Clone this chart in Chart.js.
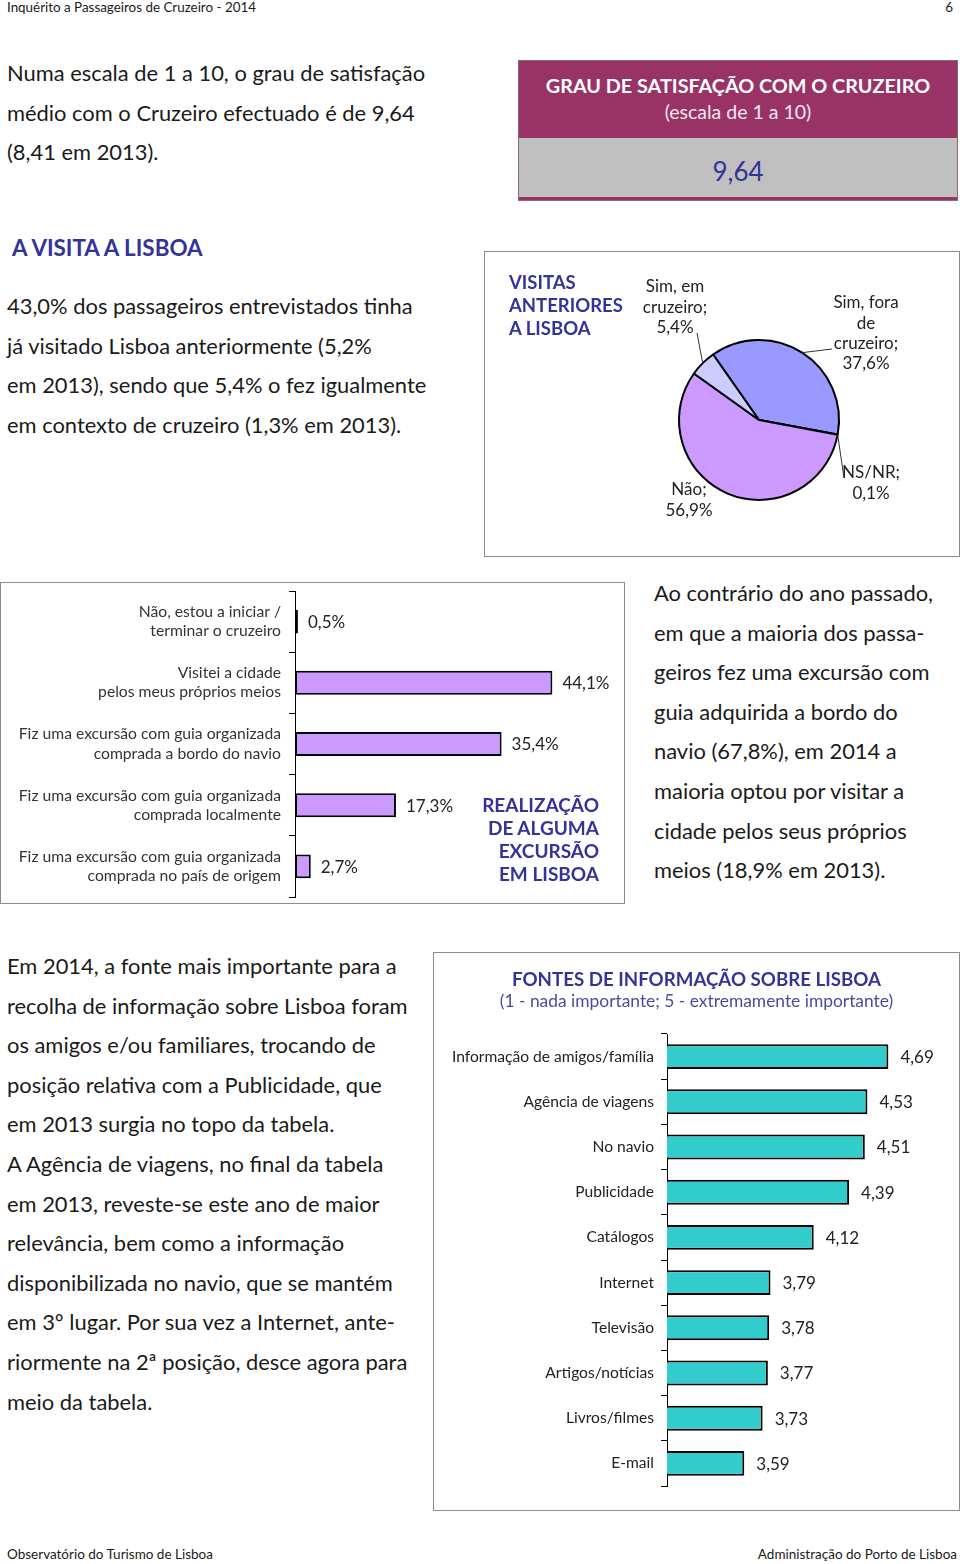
<!DOCTYPE html>
<html lang="pt">
<head>
<meta charset="utf-8">
<title>Inquérito a Passageiros de Cruzeiro - 2014</title>
<script src="https://cdn.jsdelivr.net/npm/chart.js@4"></script>
<style>
  body { margin: 0; width: 960px; height: 1564px; position: relative; overflow: hidden; background: #fff; font-family: Lato, 'Noto Sans', sans-serif; color: #1a1a1a; }
  .abs { position: absolute; white-space: nowrap; }
  .para { font-size: 21.9px; line-height: 39.6px; }
  .small { font-size: 13.4px; line-height: 15px; }
  .box { border: 1px solid #8c8c8c; box-sizing: border-box; background: #fff; }
  .blue { color: #333399; font-weight: bold; }
  canvas { position: absolute; }
</style>
</head>
<body>

<div class="abs small" style="left:7px; top:0px;">Inquérito a Passageiros de Cruzeiro - 2014</div>
<div class="abs small" style="right:7px; top:0px;">6</div>

<div class="abs para" style="left:7px; top:53px;">
  Numa escala de 1 a 10, o grau de satisfação<br>
  médio com o Cruzeiro efectuado é de 9,64<br>
  (8,41 em 2013).
</div>

<!-- caixa do grau de satisfação -->
<div class="abs" style="left:518px; top:60px; width:440px; height:141px; border:1px solid #8a6a7a; box-sizing:border-box; background:#993366;">
  <div class="abs" style="left:0; top:77px; width:438px; height:59px; background:#c0c0c0;"></div>
  <div class="abs" style="left:0; width:438px; top:12px; text-align:center; color:#fff; font-weight:bold; font-size:19.8px;">GRAU DE SATISFAÇÃO COM O CRUZEIRO</div>
  <div class="abs" style="left:0; width:438px; top:39px; text-align:center; color:#f4e8ee; font-size:19.5px;">(escala de 1 a 10)</div>
  <div class="abs" style="left:0; width:438px; top:94px; text-align:center; color:#333399; font-size:26px;">9,64</div>
</div>

<div class="abs blue" style="left:12px; top:234px; font-size:22.4px;">A VISITA A LISBOA</div>

<div class="abs para" style="left:7px; top:286px;">
  43,0% dos passageiros entrevistados tinha<br>
  já visitado Lisboa anteriormente (5,2%<br>
  em 2013), sendo que 5,4% o fez igualmente<br>
  em contexto de cruzeiro (1,3% em 2013).
</div>

<!-- visitas anteriores -->
<div class="abs box" style="left:484px; top:251px; width:476px; height:306px;">
  <canvas id="visitas" width="474" height="304" style="left:0; top:0;"></canvas>
  <div class="abs blue" style="left:24px; top:19px; font-size:18.5px; line-height:23px;">VISITAS<br>ANTERIORES<br>A LISBOA</div>
</div>

<!-- excursões -->
<div class="abs box" style="left:0px; top:582px; width:625px; height:322px;">
  <canvas id="excursao" width="623" height="320" style="left:0; top:0;"></canvas>
  <div class="abs blue" style="right:25px; top:210px; font-size:19px; line-height:23px; text-align:right;">REALIZAÇÃO<br>DE ALGUMA<br>EXCURSÃO<br>EM LISBOA</div>
</div>

<div class="abs para" style="left:654px; top:573px;">
  Ao contrário do ano passado,<br>
  em que a maioria dos passa-<br>
  geiros fez uma excursão com<br>
  guia adquirida a bordo do<br>
  navio (67,8%), em 2014 a<br>
  maioria optou por visitar a<br>
  cidade pelos seus próprios<br>
  meios (18,9% em 2013).
</div>

<div class="abs para" style="left:7px; top:946px;">
  Em 2014, a fonte mais importante para a<br>
  recolha de informação sobre Lisboa foram<br>
  os amigos e/ou familiares, trocando de<br>
  posição relativa com a Publicidade, que<br>
  em 2013 surgia no topo da tabela.<br>
  A Agência de viagens, no final da tabela<br>
  em 2013, reveste-se este ano de maior<br>
  relevância, bem como a informação<br>
  disponibilizada no navio, que se mantém<br>
  em 3º lugar. Por sua vez a Internet, ante-<br>
  riormente na 2ª posição, desce agora para<br>
  meio da tabela.
</div>

<!-- fontes de informação -->
<div class="abs box" style="left:433px; top:952px; width:527px; height:559px;">
  <canvas id="fontes" width="525" height="557" style="left:0; top:0;"></canvas>
  <div class="abs blue" style="left:0; width:525px; top:15px; text-align:center; font-size:18.7px;">FONTES DE INFORMAÇÃO SOBRE LISBOA</div>
  <div class="abs" style="left:0; width:525px; top:37px; text-align:center; font-size:17.4px; color:#4a4aa6;">(1 - nada importante; 5 - extremamente importante)</div>
</div>

<div class="abs small" style="left:7px; top:1547px; font-size:13.5px;">Observatório do Turismo de Lisboa</div>
<div class="abs small" style="right:3px; top:1547px; font-size:13.5px;">Administração do Porto de Lisboa</div>

<script>
// visitas anteriores a Lisboa (%)
const visitLabels = [['Sim, fora', 'de', 'cruzeiro'], ['NS/NR'], ['Não'], ['Sim, em', 'cruzeiro']];
const visitValues = [37.6, 0.1, 56.9, 5.4];
const visitColors = ['#9999ff', '#ffffcc', '#cc99ff', '#ccccff'];

// realização de alguma excursão em Lisboa (%)
const excursionLabels = [
  ['Não, estou a iniciar /', 'terminar o cruzeiro'],
  ['Visitei a cidade', 'pelos meus próprios meios'],
  ['Fiz uma excursão com guia organizada', 'comprada a bordo do navio'],
  ['Fiz uma excursão com guia organizada', 'comprada localmente'],
  ['Fiz uma excursão com guia organizada', 'comprada no país de origem'],
];
const excursionValues = [0.5, 44.1, 35.4, 17.3, 2.7];

// fontes de informação sobre Lisboa (escala 1 a 5)
const sourceLabels = ['Informação de amigos/família', 'Agência de viagens', 'No navio', 'Publicidade', 'Catálogos',
  'Internet', 'Televisão', 'Artigos/notícias', 'Livros/filmes', 'E-mail'];
const sourceValues = [4.69, 4.53, 4.51, 4.39, 4.12, 3.79, 3.78, 3.77, 3.73, 3.59];

const FONT = 'Lato, "Noto Sans", sans-serif';
const comma = (v, d) => v.toFixed(d).replace('.', ',');

// eixo de categorias sem a folga que o Chart.js reserva para os rótulos
function fixAxis(width) {
  return (s) => {
    s.width = width;
    s.paddingTop = 0;
    s.paddingBottom = 0;
  };
}

// rótulos do gráfico circular, posição relativa ao centro
const pieLabelPlugin = {
  id: 'pieLabels',
  afterDatasetsDraw(chart, args, opts) {
    const ctx = chart.ctx;
    const meta = chart.getDatasetMeta(0);
    ctx.save();
    ctx.font = '17px ' + FONT;
    ctx.fillStyle = '#222';
    ctx.strokeStyle = '#333';
    ctx.lineWidth = 1;
    ctx.textAlign = 'center';
    ctx.textBaseline = 'middle';
    meta.data.forEach((arc, i) => {
      const p = opts.place[i];
      const lines = chart.data.labels[i].slice();
      lines[lines.length - 1] += ';';
      lines.push(comma(chart.data.datasets[0].data[i], 1) + '%');
      lines.forEach((t, j) => ctx.fillText(t, arc.x + p.dx, arc.y + p.dy + j * 20.3));
      if (p.leader) {
        const mid = (arc.startAngle + arc.endAngle) / 2;
        ctx.beginPath();
        ctx.moveTo(arc.x + Math.cos(mid) * arc.outerRadius, arc.y + Math.sin(mid) * arc.outerRadius);
        ctx.lineTo(arc.x + p.leader[0], arc.y + p.leader[1]);
        ctx.stroke();
      }
    });
    ctx.restore();
  },
};

// valores à direita das barras
const barValuePlugin = {
  id: 'barValues',
  afterDatasetsDraw(chart, args, opts) {
    const ctx = chart.ctx;
    const meta = chart.getDatasetMeta(0);
    ctx.save();
    ctx.font = opts.size + 'px ' + FONT;
    ctx.fillStyle = '#222';
    ctx.textAlign = 'left';
    ctx.textBaseline = 'middle';
    meta.data.forEach((bar, i) => {
      const v = chart.data.datasets[0].data[i];
      ctx.fillText(comma(v, opts.decimals) + opts.suffix, bar.x + opts.gap, bar.y + 1);
    });
    ctx.restore();
  },
};

new Chart(document.getElementById('visitas'), {
  type: 'pie',
  data: {
    labels: visitLabels,
    datasets: [
      {
        data: visitValues,
        backgroundColor: visitColors,
        borderColor: '#000',
        borderWidth: 2,
        hoverOffset: 0,
      },
    ],
  },
  options: {
    responsive: false,
    animation: false,
    rotation: -35,
    layout: { padding: { left: 193, right: 119, top: 87, bottom: 55 } },
    plugins: {
      legend: { display: false },
      tooltip: { enabled: false },
      pieLabels: {
        place: [
          { dx: 107, dy: -117, leader: [73, -71] },
          { dx: 112, dy: 53, leader: [85, 58] },
          { dx: -70, dy: 70, leader: null },
          { dx: -84, dy: -133, leader: [-62, -87] },
        ],
      },
    },
  },
  plugins: [pieLabelPlugin],
});

new Chart(document.getElementById('excursao'), {
  type: 'bar',
  data: {
    labels: excursionLabels,
    datasets: [
      {
        data: excursionValues,
        backgroundColor: '#cc99ff',
        borderColor: '#000',
        borderWidth: 2,
        borderSkipped: false,
        categoryPercentage: 1,
        barPercentage: 0.39,
      },
    ],
  },
  options: {
    indexAxis: 'y',
    responsive: false,
    animation: false,
    layout: { padding: { top: 8, bottom: 6, right: 8 } },
    scales: {
      x: { display: false, min: 0, max: 55 },
      y: {
        afterFit: fixAxis(294),
        border: { color: '#000', width: 1 },
        grid: { drawOnChartArea: false, color: '#000', tickLength: 6, offset: true },
        ticks: { color: '#333', padding: 8, autoSkip: false, font: { family: FONT, size: 15.7, lineHeight: 1.22 } },
      },
    },
    plugins: {
      legend: { display: false },
      tooltip: { enabled: false },
      barValues: { size: 17, decimals: 1, suffix: '%', gap: 10 },
    },
  },
  plugins: [barValuePlugin],
});

new Chart(document.getElementById('fontes'), {
  type: 'bar',
  data: {
    labels: sourceLabels,
    datasets: [
      {
        data: sourceValues,
        backgroundColor: '#33cccc',
        borderColor: '#000',
        borderWidth: 2,
        borderSkipped: false,
        categoryPercentage: 1,
        barPercentage: 0.55,
      },
    ],
  },
  options: {
    indexAxis: 'y',
    responsive: false,
    animation: false,
    layout: { padding: { top: 81, bottom: 24, right: 30 } },
    scales: {
      x: { display: false, min: 3, max: 5 },
      y: {
        afterFit: fixAxis(233),
        border: { color: '#000', width: 1 },
        grid: { drawOnChartArea: false, color: '#000', tickLength: 6, offset: true },
        ticks: { color: '#222', padding: 7, autoSkip: false, font: { family: FONT, size: 15.6 } },
      },
    },
    plugins: {
      legend: { display: false },
      tooltip: { enabled: false },
      barValues: { size: 17, decimals: 2, suffix: '', gap: 12 },
    },
  },
  plugins: [barValuePlugin],
});
</script>
</body>
</html>
